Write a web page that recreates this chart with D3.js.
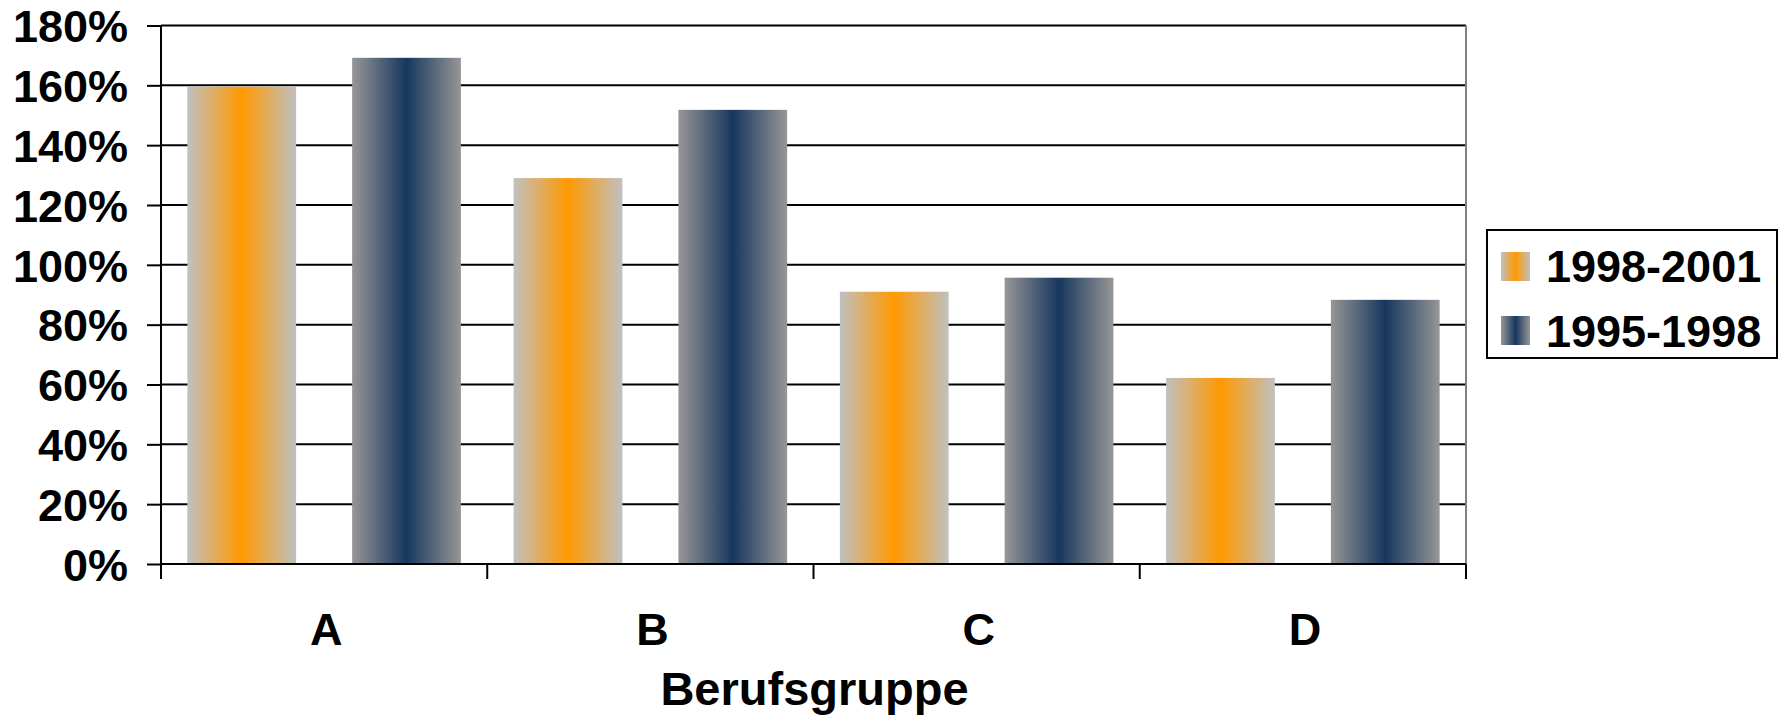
<!DOCTYPE html>
<html>
<head>
<meta charset="utf-8">
<script src="https://cdn.jsdelivr.net/npm/d3@7"></script>
<style>
  html, body { margin: 0; padding: 0; background: #fff; }
  svg { display: block; }
  text { font-family: "Liberation Sans", Arial, sans-serif; font-weight: bold; fill: #000; }
</style>
</head>
<body>
<svg id="chart" width="1780" height="718"></svg>
<script>
// ---- data ----
const categories = ["A", "B", "C", "D"];
const seriesNames = ["1998-2001", "1995-1998"];
const series1 = [1.595, 1.29, 0.91, 0.622];   // 1998-2001
const series2 = [1.692, 1.518, 0.957, 0.883]; // 1995-1998
const yTicks = [0, 0.2, 0.4, 0.6, 0.8, 1.0, 1.2, 1.4, 1.6, 1.8];
const xTitle = "Berufsgruppe";

const seriesValues = [series1, series2];
const gradColors = [["#C0C0C0", "#FF9900"], ["#969696", "#17375E"]];

const svg = d3.select("#chart");
const pLeft = 161, pRight = 1466, pTop = 25.5, pBottom = 564;

const x0 = d3.scaleBand().domain(categories).range([pLeft, pRight]).padding(0);
const x1 = d3.scaleBand().domain(d3.range(seriesNames.length))
  .range([0, x0.bandwidth()]).paddingInner(0.34).paddingOuter(0.16);
const y = d3.scaleLinear().domain([0, 1.8]).range([pBottom, pTop]);

// gradients
const defs = svg.append("defs");
gradColors.forEach((c, i) => {
  const g = defs.append("linearGradient").attr("id", "grad" + i)
    .attr("x1", "0%").attr("x2", "100%").attr("y1", "0%").attr("y2", "0%");
  g.append("stop").attr("offset", "0%").attr("stop-color", c[0]);
  g.append("stop").attr("offset", "50%").attr("stop-color", c[1]);
  g.append("stop").attr("offset", "100%").attr("stop-color", c[0]);
});

// gridlines
svg.append("g").selectAll("line").data(yTicks.filter(d => d > 0)).join("line")
  .attr("x1", pLeft).attr("x2", pRight)
  .attr("y1", d => y(d)).attr("y2", d => y(d))
  .attr("stroke", "#000").attr("stroke-width", 2);

// right border of plot
svg.append("line").attr("x1", pRight).attr("x2", pRight).attr("y1", pTop).attr("y2", pBottom)
  .attr("stroke", "#808080").attr("stroke-width", 2);

// bars
const data = [];
categories.forEach((c, ci) => seriesValues.forEach((s, si) => data.push({ c, si, v: s[ci] })));
svg.append("g").selectAll("rect").data(data).join("rect")
  .attr("x", d => x0(d.c) + x1(d.si))
  .attr("width", x1.bandwidth())
  .attr("y", d => y(d.v))
  .attr("height", d => y(0) - y(d.v))
  .attr("fill", d => `url(#grad${d.si})`);

// y axis
const yAxis = d3.axisLeft(y).tickValues(yTicks).tickFormat(d3.format(".0%"))
  .tickSize(14).tickPadding(19);
const yg = svg.append("g").attr("transform", `translate(${pLeft},0)`).call(yAxis);
yg.select(".domain").attr("stroke", "#000").attr("stroke-width", 2).attr("d", `M0,${pTop}V${pBottom}`);
yg.selectAll(".tick line").attr("stroke", "#000").attr("stroke-width", 2);
yg.selectAll(".tick text").attr("font-size", 45).attr("font-family", "Liberation Sans, Arial, sans-serif")
  .attr("font-weight", "bold").attr("fill", "#000").attr("dy", "0.36em");

// x axis
const xAxis = d3.axisBottom(x0).tickSize(0).tickPadding(0);
const xg = svg.append("g").attr("transform", `translate(0,${pBottom})`).call(xAxis);
xg.select(".domain").attr("stroke", "#000").attr("stroke-width", 2).attr("d", `M${pLeft},0H${pRight}`);
xg.selectAll(".tick text").attr("font-size", 45).attr("font-family", "Liberation Sans, Arial, sans-serif")
  .attr("font-weight", "bold").attr("fill", "#000").attr("y", 81).attr("dy", 0).attr("dx", 2);
// category boundary ticks
const boundaries = categories.map(c => x0(c)).concat([pRight]);
svg.append("g").selectAll("line").data(boundaries).join("line")
  .attr("x1", d => d).attr("x2", d => d).attr("y1", pBottom).attr("y2", pBottom + 15)
  .attr("stroke", "#000").attr("stroke-width", 2);

// x title
svg.append("text").attr("x", (pLeft + pRight) / 2 + 1).attr("y", 705)
  .attr("text-anchor", "middle").attr("font-size", 47).text(xTitle);

// legend
const lg = svg.append("g");
lg.append("rect").attr("x", 1487).attr("y", 230).attr("width", 290).attr("height", 128)
  .attr("fill", "#fff").attr("stroke", "#000").attr("stroke-width", 2);
seriesNames.forEach((n, i) => {
  lg.append("rect").attr("x", 1501).attr("y", 252 + i * 64).attr("width", 29).attr("height", 29)
    .attr("fill", `url(#grad${i})`);
  lg.append("text").attr("x", 1546).attr("y", 282 + i * 65).attr("font-size", 45).text(n);
});
</script>
</body>
</html>
